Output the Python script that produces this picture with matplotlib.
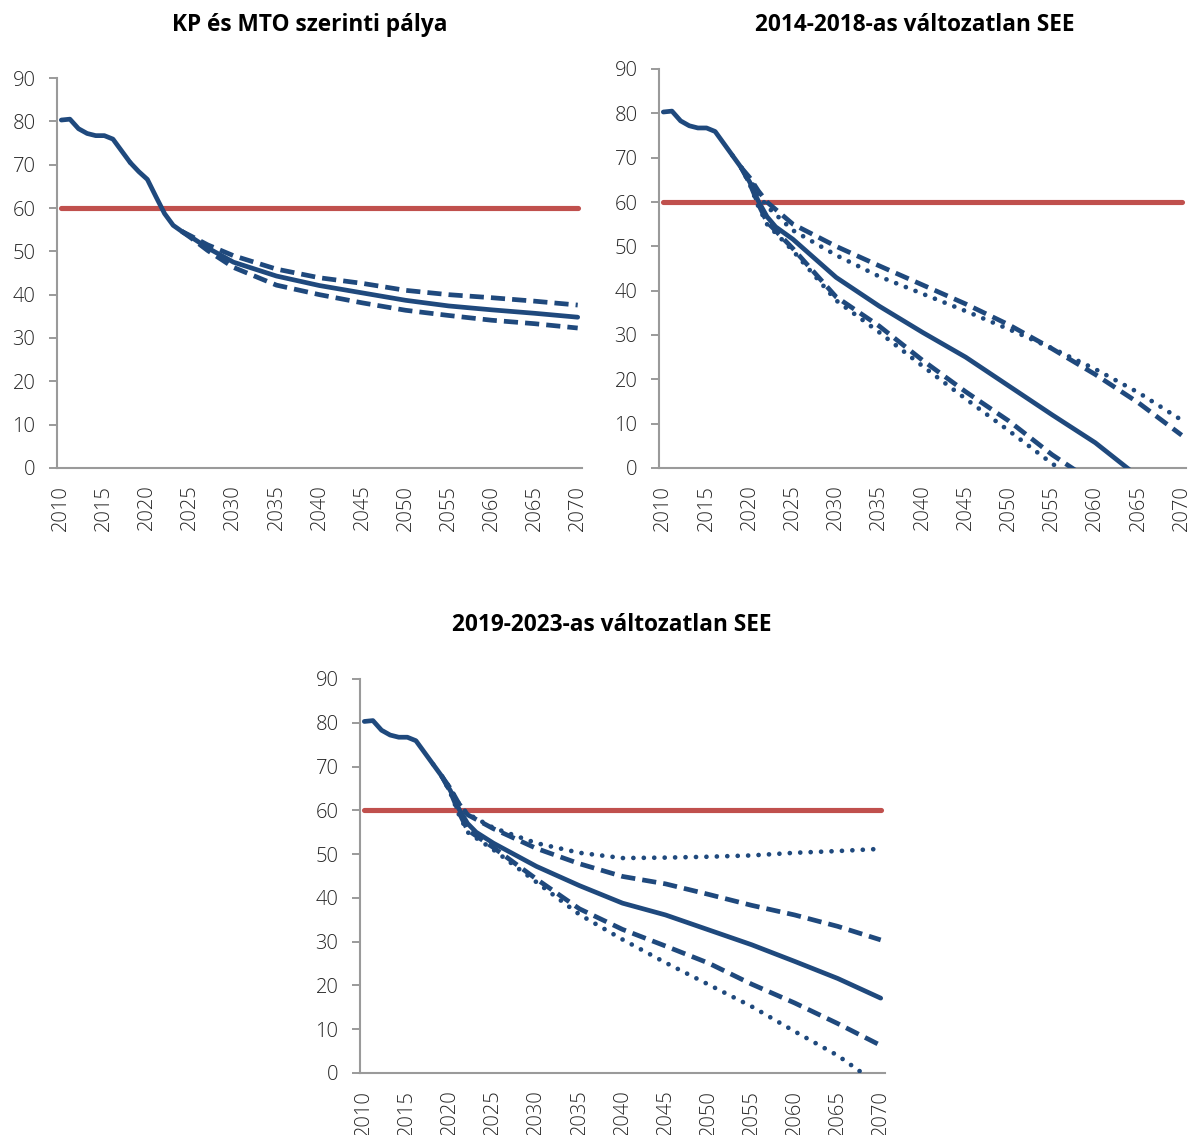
import matplotlib
matplotlib.use("Agg")
import matplotlib.pyplot as plt

plt.rcParams['font.family'] = ['Open Sans', 'DejaVu Sans']

# Shared history of the debt ratio (% of GDP)
hist_years = [2010, 2011, 2012, 2013, 2014, 2015, 2016, 2017, 2018]
hist_values = [80.3, 80.5, 78.3, 77.2, 76.7, 76.7, 75.9, 73.2, 70.5]

debt_rule = 60  # reference level
rule_years = [2010, 2070]

titles = ["KP és MTO szerinti pálya",
          "2014-2018-as változatlan SEE",
          "2019-2023-as változatlan SEE"]

# Panel 1: baseline path with a band
p1_base_years = [2018, 2019, 2020, 2021, 2022, 2023, 2024, 2025, 2027, 2030,
                 2035, 2040, 2045, 2050, 2055, 2060, 2065, 2070]
p1_base = [70.5, 68.4, 66.6, 62.6, 58.7, 56.0, 54.6, 53.4, 50.8, 47.5,
           44.3, 42.1, 40.4, 38.7, 37.4, 36.5, 35.7, 34.8]
p1_band_years = [2024, 2025, 2027, 2030, 2035, 2040, 2045, 2050, 2055, 2060, 2065, 2070]
p1_upper = [54.6, 53.6, 51.5, 49.0, 45.9, 43.9, 42.6, 41.0, 40.0, 39.3, 38.5, 37.6]
p1_lower = [54.6, 53.2, 50.2, 46.3, 42.2, 40.0, 38.1, 36.4, 35.2, 34.1, 33.3, 32.3]

# Panel 2: unchanged 2014-2018 primary balance
p2_base_years = [2018, 2019, 2020, 2021, 2022, 2023, 2025, 2030, 2035, 2040,
                 2045, 2050, 2055, 2060, 2065, 2070]
p2_base = [70.5, 67.8, 64.5, 60.2, 56.7, 54.4, 51.6, 43.0, 36.5, 30.6,
           25.0, 18.5, 12.0, 5.7, -2.0, -9.0]
p2_var_years = [2019, 2020, 2021, 2022, 2025, 2030, 2035, 2040, 2045, 2050,
                2055, 2060, 2065, 2070]
p2_upper_dash = [67.8, 65.5, 62.5, 60.0, 55.0, 50.0, 45.6, 41.3, 37.0, 32.3,
                 26.9, 21.1, 14.7, 7.4]
p2_upper_dot = [67.8, 65.2, 61.8, 59.0, 53.6, 48.0, 43.2, 39.3, 35.4, 31.3,
                27.0, 22.3, 17.0, 10.8]
p2_lower_years = [2019, 2020, 2021, 2022, 2025, 2030, 2035, 2040, 2045, 2050, 2055, 2060]
p2_lower_dash = [67.8, 64.2, 59.5, 55.5, 49.5, 38.6, 32.0, 24.3, 17.2, 10.6, 3.0, -3.5]
p2_lower_dot = [67.8, 64.0, 59.0, 55.0, 49.0, 37.8, 30.6, 23.0, 15.6, 8.4, 1.0, -5.5]

# Panel 3: unchanged 2019-2023 primary balance
p3_base_years = [2018, 2019, 2020, 2021, 2022, 2023, 2025, 2030, 2035, 2040,
                 2045, 2050, 2055, 2060, 2065, 2070]
p3_base = [70.5, 67.8, 64.5, 60.3, 57.0, 55.0, 52.5, 47.2, 42.8, 38.8,
           36.1, 32.7, 29.3, 25.5, 21.6, 17.1]
p3_var_years = [2019, 2020, 2021, 2022, 2025, 2030, 2035, 2040, 2045, 2050,
                2055, 2060, 2065, 2070]
p3_upper_dot = [67.8, 65.0, 61.5, 59.2, 56.0, 52.5, 50.3, 49.1, 49.2, 49.4,
                49.7, 50.3, 50.7, 51.2]
p3_upper_dash = [67.8, 65.0, 61.5, 59.0, 55.8, 51.3, 47.8, 44.9, 43.2, 40.8,
                 38.3, 36.1, 33.5, 30.4]
p3_lower_dash = [67.8, 64.2, 59.5, 55.5, 51.5, 44.3, 37.5, 32.8, 29.0, 25.1,
                 20.3, 16.0, 11.3, 6.3]
p3_lower_dot = [67.8, 64.0, 59.0, 55.0, 51.0, 43.6, 36.2, 30.5, 25.2, 20.2,
                15.2, 9.5, 4.0, -3.0]

x_ticks = list(range(2010, 2071, 5))
y_ticks = list(range(0, 91, 10))

BLUE = "#1F497D"
RED = "#C0504D"
AXIS_GREY = "#9A9A9A"
LABEL_GREY = "#262626"
LW = 3.4

DASH = dict(linestyle=(0, (3.0, 1.5)), dash_capstyle='butt')
DOT = dict(linestyle=(0, (0.01, 2.2)), dash_capstyle='round')

fig = plt.figure(figsize=(11.95, 11.35), dpi=100)

boxes = [
    [57 / 1195, 1 - 468 / 1135, 525 / 1195, 390 / 1135],
    [659 / 1195, 1 - 468 / 1135, 527 / 1195, 399 / 1135],
    [360 / 1195, 1 - 1073 / 1135, 525 / 1195, 394 / 1135],
]
title_pos = [(310, 25), (915, 25), (612, 625)]


def style_axes(ax):
    ax.set_xlim(2009.5, 2070.5)
    ax.set_ylim(0, 90)
    for s in ("top", "right"):
        ax.spines[s].set_visible(False)
    for s in ("left", "bottom"):
        ax.spines[s].set_color(AXIS_GREY)
        ax.spines[s].set_linewidth(1.5)
    ax.set_yticks(y_ticks)
    ax.set_xticks(x_ticks)
    ax.set_xticklabels([str(t) for t in x_ticks], rotation=90)
    ax.tick_params(axis='y', direction='out', length=5.5, width=1.4,
                   color=AXIS_GREY, pad=10, labelsize=14.5, labelcolor=LABEL_GREY)
    ax.tick_params(axis='x', length=0, pad=12, labelsize=14.5, labelcolor=LABEL_GREY)
    for lab in ax.get_xticklabels() + ax.get_yticklabels():
        lab.set_fontweight('light')


def draw_common(ax):
    ax.plot(rule_years, [debt_rule, debt_rule], color=RED, lw=LW + 0.3,
            solid_capstyle='round', zorder=2)
    ax.plot(hist_years, hist_values, color=BLUE, lw=LW,
            solid_capstyle='round', solid_joinstyle='round', zorder=4)


axes = [fig.add_axes(b) for b in boxes]
for ax in axes:
    style_axes(ax)
    draw_common(ax)

ax1, ax2, ax3 = axes

ax1.plot(p1_band_years, p1_upper, color=BLUE, lw=LW, zorder=3, **DASH)
ax1.plot(p1_band_years, p1_lower, color=BLUE, lw=LW, zorder=3, **DASH)
ax1.plot(p1_base_years, p1_base, color=BLUE, lw=LW, solid_capstyle='round',
         solid_joinstyle='round', zorder=4)

ax2.plot(p2_var_years, p2_upper_dash, color=BLUE, lw=LW, zorder=3, **DASH)
ax2.plot(p2_var_years, p2_upper_dot, color=BLUE, lw=LW, zorder=3, **DOT)
ax2.plot(p2_lower_years, p2_lower_dash, color=BLUE, lw=LW, zorder=3, **DASH)
ax2.plot(p2_lower_years, p2_lower_dot, color=BLUE, lw=LW, zorder=3, **DOT)
ax2.plot(p2_base_years, p2_base, color=BLUE, lw=LW, solid_capstyle='round',
         solid_joinstyle='round', zorder=4)

ax3.plot(p3_var_years, p3_upper_dot, color=BLUE, lw=LW, zorder=3, **DOT)
ax3.plot(p3_var_years, p3_upper_dash, color=BLUE, lw=LW, zorder=3, **DASH)
ax3.plot(p3_var_years, p3_lower_dash, color=BLUE, lw=LW, zorder=3, **DASH)
ax3.plot(p3_var_years, p3_lower_dot, color=BLUE, lw=LW, zorder=3, **DOT)
ax3.plot(p3_base_years, p3_base, color=BLUE, lw=LW, solid_capstyle='round',
         solid_joinstyle='round', zorder=4)

for (tx, ty), title in zip(title_pos, titles):
    fig.text(tx / 1195, 1 - ty / 1135, title, ha='center', va='center',
             fontsize=16.3, fontweight='bold', color='black')

fig.savefig("out.png", dpi=100)
